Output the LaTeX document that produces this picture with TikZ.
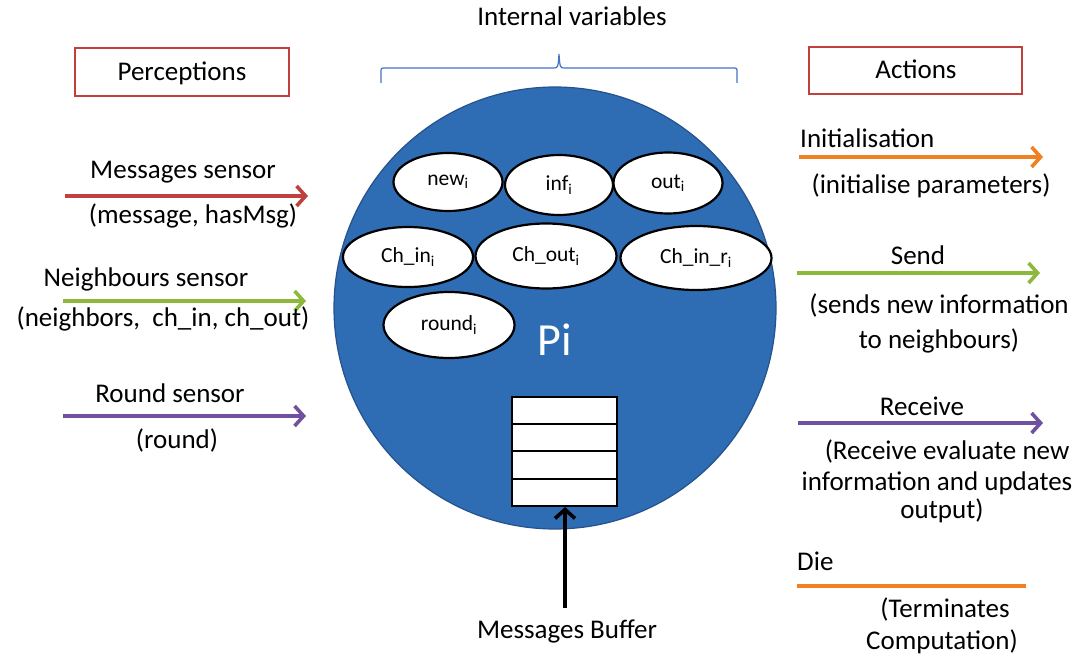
\documentclass[tikz,border=0pt]{standalone}
\usepackage{fontspec}
\setmainfont{Carlito}
\usetikzlibrary{arrows.meta,shapes.geometric}
\definecolor{pblue}{RGB}{46,109,180}
\definecolor{pblueedge}{RGB}{37,82,140}
\definecolor{bracec}{RGB}{68,114,196}
\definecolor{pred}{RGB}{192,64,64}
\definecolor{pgreen}{RGB}{140,185,60}
\definecolor{ppurple}{RGB}{112,80,160}
\definecolor{porange}{RGB}{240,128,32}
\begin{document}
\begin{tikzpicture}[x=1pt,y=-1pt,
  lbl/.style={font=\fontsize{27}{32}\selectfont, inner sep=0pt, anchor=base},
  lblL/.style={lbl, anchor=base west},
  var/.style={draw=black, line width=2.2pt, fill=white, ellipse, inner sep=0pt, font=\fontsize{21.5}{25}\selectfont},
  redbox/.style={draw=pred, line width=1.8pt, fill=white, inner sep=0pt},
  sensor/.style={line width=3.6pt, -{Straight Barb[length=9pt,width=20pt,line width=3.6pt]}},
  cell/.style={draw=black, line width=2pt, fill=white, inner sep=0pt, minimum width=105pt, minimum height=27.25pt}
]
\useasboundingbox (0,0) rectangle (1086,658);

% main circle
\node[circle, draw=pblueedge, line width=1.2pt, fill=pblue, minimum size=442pt, inner sep=0pt] (P) at (555,308) {};
\node[font=\fontsize{46}{50}\selectfont, text=white, inner sep=0pt, anchor=base] (pi) at (555,355) {Pi};

% internal variables
\node[var, minimum width=109pt, minimum height=58pt] (new) at (448,182) {new\textsubscript{i}};
\node[var, minimum width=108pt, minimum height=60pt] (inf) at (559,185) {inf\textsubscript{i}};
\node[var, minimum width=109pt, minimum height=61pt] (out) at (668,183) {out\textsubscript{i}};
\node[var, minimum width=130pt, minimum height=60pt] (chin) at (408,257) {Ch\_in\textsubscript{i}};
\node[var, minimum width=141pt, minimum height=65pt] (chout) at (546,256) {Ch\_out\textsubscript{i}};
\node[var, minimum width=151pt, minimum height=64pt] (chinr) at (696,258) {Ch\_in\_r\textsubscript{i}};
\node[var, minimum width=131pt, minimum height=66pt] (round) at (449,325) {round\textsubscript{i}};

% messages buffer
\node[cell] (c1) at (564.5,410.6) {};
\node[cell] (c2) at (564.5,437.9) {};
\node[cell] (c3) at (564.5,465.1) {};
\node[cell] (c4) at (564.5,492.4) {};
\node[lbl] (mb) at (567,638) {Messages Buffer};
\coordinate (mbtop) at (565,608);
\draw[sensor, black] (mbtop) -- (c4.south -| mbtop);

% internal variables brace
\node[lbl] (iv) at (572,26) {Internal variables};
\coordinate (bl) at (381,83);
\coordinate (br) at (737,83);
\coordinate (bt) at (559,54);
\draw[bracec, line width=1.2pt]
  (bl) -- (381,72) .. controls (381,68) .. (386,68) -- (553,68)
  .. controls (558,68) .. (bt)
  .. controls (560,68) .. (565,68) -- (732,68)
  .. controls (737,68) .. (737,72) -- (br);

% headers
\node[redbox, minimum width=214pt, minimum height=48pt] (perc) at (182,72) {};
\node[lbl] at (182,81) {Perceptions};
\node[redbox, minimum width=213pt, minimum height=47pt] (act) at (915.5,70.5) {};
\node[lbl] at (916,79) {Actions};

% perceptions
\coordinate (m1) at (65,196);   \coordinate (m2) at (308,196);
\draw[sensor, pred] (m1) -- (m2);
\node[lbl] (ms) at (183,178) {Messages sensor};
\node[lbl] (msd) at (193,223) {(message, hasMsg)};

\coordinate (n1) at (63,301);   \coordinate (n2) at (306,301);
\draw[sensor, pgreen] (n1) -- (n2);
\node[lbl] (ns) at (146,286) {Neighbours sensor};
\node[lbl] (nsd) at (163,326) {(neighbors,\ \ ch\_in, ch\_out)};

\coordinate (r1) at (63,416);   \coordinate (r2) at (306,416);
\draw[sensor, ppurple] (r1) -- (r2);
\node[lbl] (rs) at (170,402) {Round sensor};
\node[lbl] (rsd) at (177,448) {(round)};

% actions
\coordinate (i1) at (799,157);  \coordinate (i2) at (1043,157);
\draw[sensor, porange] (i1) -- (i2);
\node[lblL] (ini) at (800,147) {Initialisation};
\node[lbl] (inid) at (931,193) {(initialise parameters)};

\coordinate (s1) at (797,273);  \coordinate (s2) at (1040,273);
\draw[sensor, pgreen] (s1) -- (s2);
\node[lbl] (snd) at (918,264) {Send};
\node[lbl] (sndd1) at (939,313) {(sends new information};
\node[lbl] (sndd2) at (939,348) {to neighbours)};

\coordinate (v1) at (798,423);  \coordinate (v2) at (1043,423);
\draw[sensor, ppurple] (v1) -- (v2);
\node[lbl] (rcv) at (922,415) {Receive};
\node[lbl] (rcvd1) at (947,459) {(Receive evaluate new};
\node[lbl] (rcvd2) at (937,490) {information and updates};
\node[lbl] (rcvd3) at (942,518) {output)};

\coordinate (d1) at (797,586);  \coordinate (d2) at (1026,586);
\draw[porange, line width=3.6pt] (d1) -- (d2);
\node[lblL] (die) at (797,570) {Die};
\node[lbl] (died1) at (945,617) {(Terminates};
\node[lbl] (died2) at (942,649) {Computation)};
\end{tikzpicture}
\end{document}
